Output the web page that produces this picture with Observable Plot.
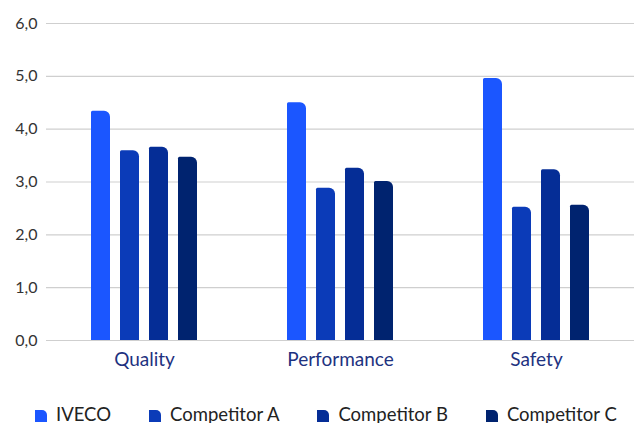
<!DOCTYPE html>
<html>
<head>
<meta charset="utf-8">
<script src="https://cdn.jsdelivr.net/npm/d3@7"></script>
<script src="https://cdn.jsdelivr.net/npm/@observablehq/plot@0.6"></script>
<style>
  html, body { margin: 0; padding: 0; background: #fff; }
  body { width: 634px; height: 423px; overflow: hidden; font-family: Lato, "Open Sans", sans-serif; }
  #legend { display: flex; align-items: center; padding-left: 35px; margin-top: 23px; font-size: 18.5px; color: #222; }
  .item { display: flex; align-items: center; margin-right: 38px; white-space: nowrap; }
  .sw { width: 12px; height: 12px; border-top-right-radius: 5px; margin-right: 9px; margin-top: 3px; }
</style>
</head>
<body>
<div id="chart"></div>
<div id="legend"></div>
<script>
const categories = ["Quality", "Performance", "Safety"];
const series = ["IVECO", "Competitor A", "Competitor B", "Competitor C"];
const iveco = [4.34, 4.50, 4.96];
const competitorA = [3.59, 2.88, 2.52];
const competitorB = [3.66, 3.26, 3.23];
const competitorC = [3.47, 3.01, 2.56];
const colors = ["#1b56ff", "#0b3bb8", "#052d96", "#00236f"];
const yTicks = [0, 1, 2, 3, 4, 5, 6];

const valuesBySeries = [iveco, competitorA, competitorB, competitorC];
const data = [];
categories.forEach((c, i) => {
  series.forEach((s, j) => data.push({category: c, series: s, value: valuesBySeries[j][i]}));
});

const fmt = d => d.toFixed(1).replace(".", ",");

const chart = Plot.plot({
  width: 634,
  height: 380,
  marginLeft: 45,
  marginRight: 0,
  marginTop: 23,
  marginBottom: 40,
  style: {fontFamily: "Lato, 'Open Sans', sans-serif", background: "#fff"},
  fx: {domain: categories, paddingInner: 0, paddingOuter: 0, label: null},
  x: {domain: series, paddingInner: 0.34, paddingOuter: 1.5, axis: null},
  y: {domain: [0, 6], label: null},
  color: {domain: series, range: colors},
  marks: [
    Plot.gridY(yTicks, {stroke: "#cfcfcf", strokeOpacity: 1, strokeWidth: 1.2}),
    Plot.axisY(yTicks, {tickSize: 0, tickPadding: 9, tickFormat: fmt, fontSize: 16, fill: "#333", label: null}),
    Plot.axisFx({anchor: "bottom", tickSize: 0, tickPadding: 12, fontSize: 19, fill: "#1e327f", label: null}),
    Plot.barY(data, {fx: "category", x: "series", y: "value", fill: "series", rx2y1: 6, rx1y1: 1.5})
  ]
});
document.getElementById("chart").appendChild(chart);

const legend = document.getElementById("legend");
series.forEach((s, i) => {
  const item = document.createElement("div");
  item.className = "item";
  const sw = document.createElement("div");
  sw.className = "sw";
  sw.style.background = colors[i];
  const t = document.createElement("span");
  t.textContent = s;
  item.appendChild(sw);
  item.appendChild(t);
  legend.appendChild(item);
});
</script>
</body>
</html>
